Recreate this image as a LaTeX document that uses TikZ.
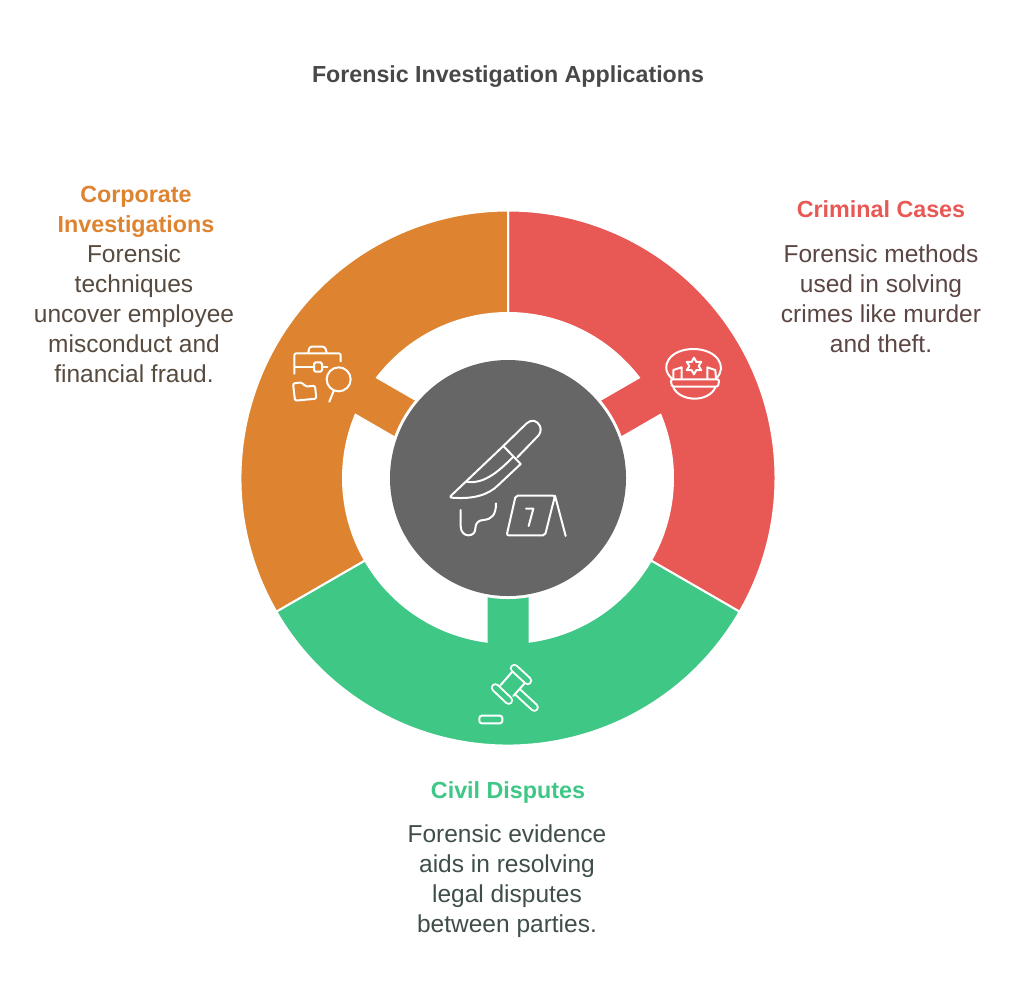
\documentclass[tikz,border=0pt]{standalone}
\usepackage{fontspec}
\setmainfont{Liberation Sans}
\definecolor{cred}{HTML}{E85854}
\definecolor{corange}{HTML}{DE8431}
\definecolor{cgreen}{HTML}{3EC785}
\definecolor{cgrey}{HTML}{666666}
\definecolor{ttitle}{HTML}{484848}
\definecolor{tred}{HTML}{5C4644}
\definecolor{torange}{HTML}{574A3F}
\definecolor{tgreen}{HTML}{3F4F47}
\newcommand{\sectorshape}[2]{%
  \begin{scope}[shift={(508,-478)},rotate=#1]
    \fill[#2,draw=white,line width=2pt] (60:267.5) arc (60:-60:267.5) -- (-60:165) arc (-60:-7.49:165)
      -- (100,-21.5) -- (100,21.5) -- (7.49:165) arc (7.49:60:165) -- cycle;
  \end{scope}}
\tikzset{
  headtext/.style={font=\fontsize{23.3}{30}\selectfont\bfseries,align=center,inner sep=0pt},
  bodytext/.style={font=\fontsize{24.5}{30}\selectfont,align=center,inner sep=0pt},
  iconline/.style={draw=white,line width=2pt,line cap=round,line join=round,fill=none},
  iconzoom/.style={shift={(#1)},x=0.33333pt,y=-0.33333pt},
}
\begin{document}
\begin{tikzpicture}[x=1pt,y=1pt]
\useasboundingbox (0,0) rectangle (1024,-1002);
\fill[white] (0,0) rectangle (1024,-1002);
\node[font=\fontsize{23.2}{26}\selectfont\bfseries,text=ttitle,inner sep=0pt] (title) at (508,-77) {Forensic Investigation Applications};
\sectorshape{30}{cred}
\sectorshape{150}{corange}
\sectorshape{270}{cgreen}
\fill[white] (508,-478) circle (121);
\fill[cgrey] (508,-478) circle (118);
% labels
\node[headtext,text=cred] (h1) at (881,-209) {Criminal Cases};
\node[bodytext,text=tred] (b1) at (881,-299) {Forensic methods\\used in solving\\crimes like murder\\and theft.};
\node[headtext,text=corange] (h2) at (136,-212) {Corporate\\Investigations};
\node[bodytext,text=torange] (b2) at (134,-314) {Forensic\\techniques\\uncover employee\\misconduct and\\financial fraud.};
\node[headtext,text=cgreen] (h3) at (508,-792) {Civil Disputes};
\node[bodytext,text=tgreen] (b3) at (507,-881) {Forensic evidence\\aids in resolving\\legal disputes\\between parties.};
% knife icon
\begin{scope}[iconzoom={430,-400}]
  \draw[iconline] (220,138) -- (290,70) .. controls (305,56) and (322,62) .. (330,78) .. controls (335,92) and (330,102) .. (322,110) -- (262,172);
  \draw[iconline] (220,138) -- (272,192);
  \draw[iconline] (220,138) -- (62,288) .. controls (60,292) and (62,293) .. (66,293) .. controls (130,298) and (175,285) .. (205,255) -- (272,192);
  \draw[iconline] (110,245) .. controls (165,255) and (215,205) .. (250,170);
  \draw[iconline] (92,330) -- (92,378) .. controls (92,398) and (105,406) .. (115,406) .. controls (130,406) and (136,396) .. (136,385) .. controls (136,368) and (148,360) .. (160,360) .. controls (185,358) and (198,345) .. (198,310);
  \draw[iconline,rounded corners=2pt] (257,287) -- (375,287) -- (345,406) -- (230,406) -- cycle;
  \draw[iconline] (375,287) -- (407,408);
  \draw[iconline] (288,326) -- (310,326) -- (296,378);
\end{scope}
% cap icon
\begin{scope}[iconzoom={590,-330}]
  \draw[iconline] (246,146) .. controls (205,110) and (240,57) .. (310,57) .. controls (380,57) and (415,110) .. (378,146);
  \draw[iconline,rounded corners=1.5pt] (242,148) -- (388,148) -- (384,170) -- (246,170) -- cycle;
  \draw[iconline] (250,172) .. controls (258,192) and (285,206) .. (314,206) .. controls (343,206) and (368,192) .. (376,172);
  \draw[iconline] (250,146) -- (250,120) -- (275,112) -- (275,146);
  \draw[iconline] (352,146) -- (352,112) -- (376,120) -- (378,146);
  \begin{scope}[shift={(312,108)}]
    \draw[iconline] (90:25) -- (60:14) -- (30:25) -- (0:14) -- (-30:25) -- (-60:14) -- (-90:25) -- (-120:14) -- (-150:25) -- (180:14) -- (150:25) -- (120:14) -- cycle;
  \end{scope}
\end{scope}
% briefcase icon
\begin{scope}[iconzoom={270,-330}]
  \draw[iconline,rounded corners=2pt] (73,131) -- (73,70) -- (212,70) -- (212,94);
  \draw[iconline,rounded corners=2.5pt] (115,68) -- (118,50) -- (165,50) -- (170,68);
  \draw[iconline] (75,112) -- (131,112);
  \draw[iconline,rounded corners=1.5pt] (132,97) rectangle (156,125);
  \draw[iconline] (156,112) -- (172,112);
  \draw[iconline] (206,148) circle (36);
  \draw[iconline] (191,183) -- (178,215);
  \draw[iconline,rounded corners=2pt] (69,160) -- (97,157) -- (105,170) -- (135,167) -- (139,206) -- (75,212) -- cycle;
\end{scope}
% gavel icon
\begin{scope}[iconzoom={460,-590},iconbar/.style={iconline,double=cgreen,double distance=#1}]
  \draw[iconbar=5pt] (170,303) -- (223,352);
  \fill[cgreen] (122,285) -- (157,245) -- (193,281) -- (160,318) -- cycle;
  \draw[iconline] (122,285) -- (157,245);
  \draw[iconline] (160,318) -- (193,281);
  \draw[iconbar=5pt] (163,235) -- (203,272);
  \draw[iconbar=5pt] (106,293) -- (146,331);
  \draw[iconline,rounded corners=2.5pt] (58,377) rectangle (127,400);
\end{scope}
\end{tikzpicture}
\end{document}
